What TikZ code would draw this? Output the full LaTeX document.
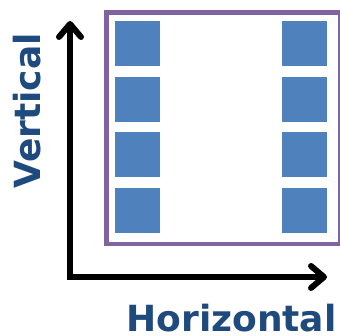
\documentclass[tikz,border=0pt]{standalone}
\usepackage{fontspec}
\setmainfont{DejaVu Sans}
\usetikzlibrary{arrows.meta}
\definecolor{tileblue}{HTML}{4F81BD}
\definecolor{framepurple}{HTML}{8064A2}
\definecolor{labelblue}{HTML}{1F4A7E}
\begin{document}
\begin{tikzpicture}[x=1pt,y=-1pt,
  tile/.style={fill=tileblue, draw=none, minimum size=45pt, inner sep=0pt, anchor=north west},
  axislabel/.style={font=\fontsize{36}{36}\selectfont\bfseries, text=labelblue, inner sep=0pt, anchor=base},
  axisline/.style={line width=6pt, line join=miter,
    {Straight Barb[length=13pt,width=22pt,line cap=round,line join=round]}-{Straight Barb[length=13pt,width=22pt,line cap=round,line join=round]}}]
\useasboundingbox (0,0) rectangle (340,336);
% frame
\node[draw=framepurple, line width=4.5pt, minimum width=233.5pt, minimum height=231.5pt, inner sep=0pt, anchor=north west] (frame) at (104,10.5) {};
% tiles
\foreach \r/\y in {1/21,2/76.7,3/132.3,4/188}{
  \node[tile] (L\r) at (115,\y) {};
  \node[tile] (R\r) at (282,\y) {};
}
% axes
\coordinate (ytip) at (70,21);
\coordinate (origin) at (70,277);
\coordinate (xtip) at (327,277);
\draw[axisline] (ytip) -- (origin) -- (xtip);
% labels
\node[axislabel, rotate=90] (vlab) at (40,111) {Vertical};
\node[axislabel] (hlab) at (231.5,332) {Horizontal};
\end{tikzpicture}
\end{document}
